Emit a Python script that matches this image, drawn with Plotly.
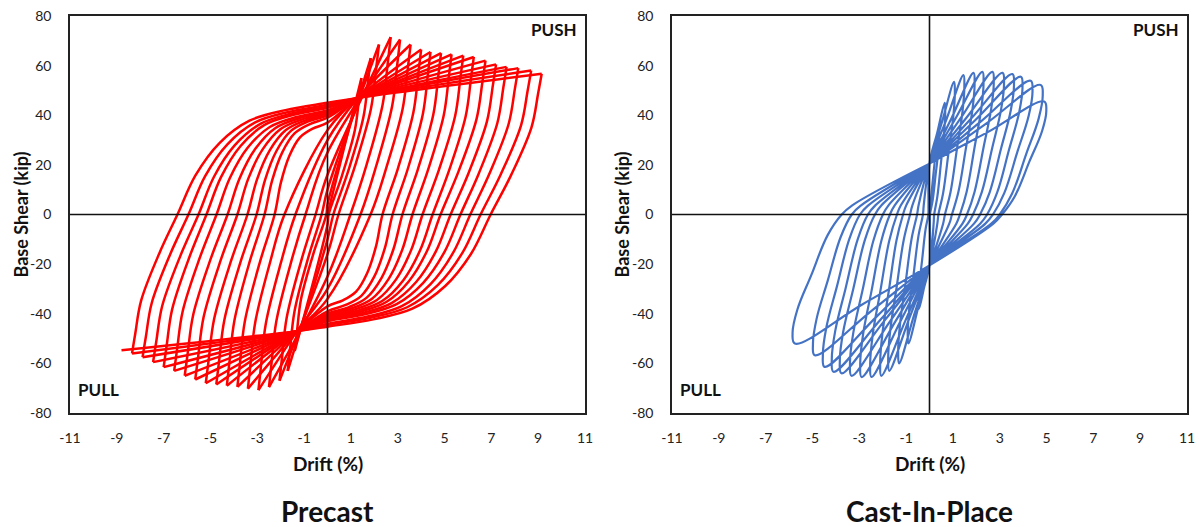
import plotly.graph_objects as go

# ---------------- Precast ----------------
pc_pos_drift = [1.45, 1.85, 2.2, 2.7, 3.1, 3.55, 4.0, 4.4, 4.85, 5.3, 5.8, 6.25, 6.75, 7.2, 7.65, 8.15, 8.7, 9.15]
pc_pos_shear = [55, 63, 68.5, 71.5, 70.5, 68.5, 66.5, 65.5, 65, 64.5, 64, 63.5, 62, 60.5, 59.5, 59, 58, 56.7]
pc_pos_zero = [0.05, 0.25, 0.47, 0.98, 1.41, 1.84, 2.35, 2.78, 3.2, 3.63, 4.06, 4.49, 4.83, 5.26, 5.68, 6.1, 6.54, 6.97]
pc_neg_drift = [1.4, 1.7, 2.05, 2.5, 2.95, 3.4, 3.85, 4.3, 4.75, 5.2, 5.65, 6.1, 6.55, 7.0, 7.45, 7.9, 8.35, 8.8]
pc_neg_shear = [55, 63, 67, 69.6, 70.8, 70.2, 69.5, 69, 68.5, 68, 66.5, 65, 63, 61.5, 59.5, 57.5, 56, 54.7]
pc_neg_zero = [0.05, 0.25, 0.51, 0.94, 1.37, 1.84, 2.26, 2.69, 3.03, 3.42, 3.85, 4.27, 4.74, 5.17, 5.51, 5.94, 6.41, 6.84]
pc_knee_reload = [4, 10, 16, 25, 30, 34, 37, 39, 40, 40.5, 41, 41.5, 42, 43, 43.5, 44.2, 45, 45.8]
pc_knee_unload = [4, 10, 16, 25, 30, 34, 37, 39, 40, 40.5, 41, 41.5, 42, 42.5, 43, 44, 44.5, 45.2]
pc_pinch = (1.3, 47.0)

# branch shape read from the outer precast loop
red_drop_s = [1.0, 0.93, 0.80, 0.40, 0.0]
red_drop_v = [1.0, 0.86, 0.62, 0.28, 0.0]
red_knee_t = [0.88, 0.72, 0.52, 0.28, 0.0]
red_knee_w = [0.35, 0.64, 0.84, 0.935, 1.0]

# ---------------- Cast-In-Place ----------------
cip_pos_drift = [0.4, 0.65, 1.05, 1.45, 1.88, 2.26, 2.69, 3.12, 3.54, 3.9, 4.32, 4.75, 4.9]
cip_pos_shear = [35, 45, 53.5, 56.2, 57.1, 57.5, 57.5, 57.1, 56.6, 55.5, 53.9, 52.2, 45.5]
cip_pos_zero = [0.02, 0.2, 0.38, 0.66, 0.96, 1.3, 1.6, 1.86, 2.16, 2.46, 2.71, 3.0, 3.1]
cip_neg_drift = [0.45, 0.9, 1.3, 1.72, 2.06, 2.48, 2.9, 3.33, 3.76, 4.1, 4.48, 4.9, 5.75]
cip_neg_shear = [38, 52, 60, 63, 65, 65.5, 65.5, 65, 64, 63.4, 61.4, 56.7, 52]
cip_neg_zero = [0.05, 0.28, 0.53, 0.83, 1.13, 1.39, 1.69, 1.99, 2.33, 2.63, 2.97, 3.32, 3.75]
cip_pinch = 20.5

# leaf cap + edge shape read from the outer cast-in-place loop
blue_drop_s = [1.0, 1.05, 0.95, 0.65, 0.30, 0.0]
blue_drop_v = [1.0, 0.92, 0.74, 0.47, 0.16, 0.0]

x_ticks = [-11, -9, -7, -5, -3, -1, 1, 3, 5, 7, 9, 11]
y_ticks = [80, 60, 40, 20, 0, -20, -40, -60, -80]

RED = "#FF0000"
BLUE = "#4472C4"


def red_branch(a, va, x0, vc, b, vb, sign):
    xs, ys = [], []
    for s, v in zip(red_drop_s, red_drop_v):
        xs.append(x0 + s * (a - x0))
        ys.append(v * va)
    if x0 >= 2.0:
        for t, w in zip(red_knee_t, red_knee_w):
            xs.append(t * x0)
            ys.append(-w * vc)
    else:
        xs.append(0.0)
        ys.append(-vc)
    if vc >= 30:
        xs.append(-pc_pinch[0])
        ys.append(-pc_pinch[1])
    xs.append(-b)
    ys.append(-vb)
    return [sign * x for x in xs], [sign * y for y in ys]


def blue_branch(a, va, x0, b, vb, sign):
    xs, ys = [], []
    for s, v in zip(blue_drop_s, blue_drop_v):
        xs.append(x0 + s * (a - x0))
        ys.append(v * va)
    xs.append(0.88 * x0)
    ys.append(-0.18 * cip_pinch)
    xs.append(0.0)
    ys.append(-cip_pinch)
    xs.append(-0.5 * b)
    ys.append(-(cip_pinch + 0.5 * (vb - cip_pinch)))
    return [sign * x for x in xs], [sign * y for y in ys]


fig = go.Figure()

# Precast traces
n = len(pc_pos_drift)
fig.add_trace(go.Scatter(x=[0, pc_pos_drift[0]], y=[0, pc_pos_shear[0]], mode="lines",
                         line=dict(color=RED, width=2.5), xaxis="x", yaxis="y",
                         showlegend=False, hoverinfo="skip"))
for i in range(n):
    xs, ys = red_branch(pc_pos_drift[i], pc_pos_shear[i], pc_pos_zero[i], pc_knee_unload[i],
                        pc_neg_drift[i], pc_neg_shear[i], 1)
    fig.add_trace(go.Scatter(x=xs, y=ys, mode="lines",
                             line=dict(color=RED, width=2.5, shape="spline", smoothing=1.0),
                             xaxis="x", yaxis="y", showlegend=False, hoverinfo="skip"))
    if i + 1 < n:
        xs, ys = red_branch(pc_neg_drift[i], pc_neg_shear[i], pc_neg_zero[i], pc_knee_reload[i],
                            pc_pos_drift[i + 1], pc_pos_shear[i + 1], -1)
        fig.add_trace(go.Scatter(x=xs, y=ys, mode="lines",
                                 line=dict(color=RED, width=2.5, shape="spline", smoothing=1.0),
                                 xaxis="x", yaxis="y", showlegend=False, hoverinfo="skip"))

# Cast-In-Place trace (one continuous path)
bx, by = [0.0], [0.0]
m = len(cip_pos_drift)
for i in range(m):
    xs, ys = blue_branch(cip_pos_drift[i], cip_pos_shear[i], cip_pos_zero[i],
                         cip_neg_drift[i], cip_neg_shear[i], 1)
    bx += xs
    by += ys
    nb = cip_pos_drift[i + 1] if i + 1 < m else 0.0
    nv = cip_pos_shear[i + 1] if i + 1 < m else cip_pinch
    xs, ys = blue_branch(cip_neg_drift[i], cip_neg_shear[i], cip_neg_zero[i], nb, nv, -1)
    if i + 1 == m:
        xs, ys = xs[:-1], ys[:-1]
    bx += xs
    by += ys
fig.add_trace(go.Scatter(x=bx, y=by, mode="lines",
                         line=dict(color=BLUE, width=2.2, shape="spline", smoothing=1.1),
                         xaxis="x2", yaxis="y2", showlegend=False, hoverinfo="skip"))

font_main = "Lato, Open Sans, sans-serif"
tick_font = dict(family=font_main, size=14, color="#222")
axis_common = dict(range=[-11, 11], tickvals=x_ticks, ticktext=[str(v) for v in x_ticks],
                   showgrid=False, zeroline=False, showline=True, mirror=True, automargin=False,
                   linecolor="#222", linewidth=1.5, ticks="", ticklabelstandoff=11,
                   tickfont=tick_font, fixedrange=True)
yaxis_common = dict(range=[-80, 80], tickvals=y_ticks, ticktext=[str(v) for v in y_ticks],
                    showgrid=False, zeroline=False, showline=True, mirror=True, automargin=False,
                    linecolor="#222", linewidth=1.5, ticks="", ticklabelstandoff=14,
                    tickfont=tick_font, fixedrange=True)

fig.update_layout(
    width=1199, height=527,
    margin=dict(l=0, r=0, t=16, b=114, pad=0),
    paper_bgcolor="white", plot_bgcolor="white",
    xaxis=dict(domain=[70 / 1199, 585 / 1199], anchor="y", **axis_common),
    yaxis=dict(domain=[0, 1], anchor="x", **yaxis_common),
    xaxis2=dict(domain=[672 / 1199, 1187 / 1199], anchor="y2", **axis_common),
    yaxis2=dict(domain=[0, 1], anchor="x2", **yaxis_common),
)

shapes = []
for xr, yr in [("x", "y"), ("x2", "y2")]:
    shapes.append(dict(type="line", xref=xr, yref=yr, x0=0, x1=0, y0=-80, y1=80,
                       line=dict(color="#111", width=1.6), layer="above"))
    shapes.append(dict(type="line", xref=xr, yref=yr, x0=-11, x1=11, y0=0, y1=0,
                       line=dict(color="#111", width=1.6), layer="above"))
fig.update_layout(shapes=shapes)

ann = []
for xr, yr, title, cx, ylab_x in [("x", "y", "Precast", 327.5 / 1199, 20 / 1199),
                                  ("x2", "y2", "Cast-In-Place", 929.5 / 1199, 621 / 1199)]:
    ann.append(dict(xref=xr, yref=yr, x=10.75, y=74.5, text="<b>PUSH</b>", showarrow=False,
                    xanchor="right", yanchor="middle", font=dict(family=font_main, size=17, color="#111")))
    ann.append(dict(xref=xr, yref=yr, x=-10.75, y=-70.5, text="<b>PULL</b>", showarrow=False,
                    xanchor="left", yanchor="middle", font=dict(family=font_main, size=17, color="#111")))
    ann.append(dict(xref="paper", yref="paper", x=cx, y=(413 - 463) / 397, text="<b>Drift (%)</b>",
                    showarrow=False, xanchor="center", yanchor="middle",
                    font=dict(family=font_main, size=19, color="#111")))
    ann.append(dict(xref="paper", yref="paper", x=ylab_x, y=0.5, text="<b>Base Shear (kip)</b>",
                    showarrow=False, xanchor="center", yanchor="middle", textangle=-90,
                    font=dict(family=font_main, size=18, color="#111")))
    ann.append(dict(xref="paper", yref="paper", x=cx, y=(413 - 511) / 397, text="<b>" + title + "</b>",
                    showarrow=False, xanchor="center", yanchor="middle",
                    font=dict(family=font_main, size=28, color="#111")))
fig.update_layout(annotations=ann)

fig.write_html("out.html", config={"displayModeBar": False},
               post_script="document.body.style.margin='0';document.body.style.overflow='hidden';")
